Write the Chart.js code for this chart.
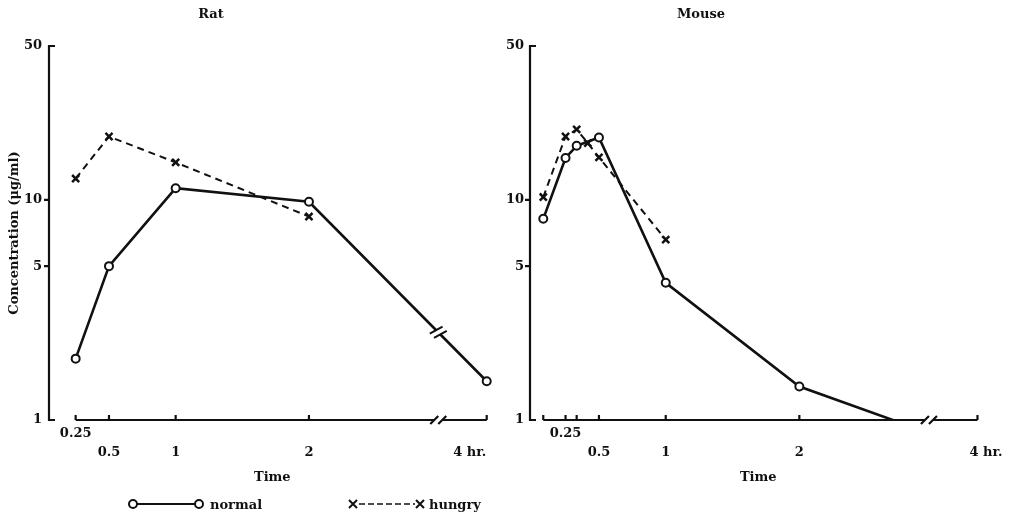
<!DOCTYPE html>
<html>
<head>
<meta charset="utf-8">
<script src="https://cdn.jsdelivr.net/npm/chart.js@4"></script>
<style>
  body { margin: 0; background: #fff; }
  #wrap { position: relative; width: 1011px; height: 516px; overflow: hidden;
          font-family: 'DejaVu Serif', 'Liberation Serif', serif; font-weight: bold; color: #111; }
  canvas { position: absolute; top: 0; }
  #rat { left: 0; }
  #mouse { left: 505px; }
  .ttl { position: absolute; top: 6px; font-size: 13px; transform: translateX(-50%); }
  .leg { position: absolute; top: 496px; font-size: 13px; display: flex; align-items: center; }
  .leg svg { display: block; }
</style>
</head>
<body>
<div id="wrap">
  <canvas id="rat" width="505" height="516"></canvas>
  <canvas id="mouse" width="506" height="516"></canvas>
  <div class="ttl" style="left:211px">Rat</div>
  <div class="ttl" style="left:701px">Mouse</div>
  <div class="leg" style="left:127px">
    <svg width="78" height="16"><line x1="10" y1="8" x2="68" y2="8" stroke="#111" stroke-width="2"/>
      <circle cx="6" cy="8" r="4" fill="#fff" stroke="#111" stroke-width="2"/>
      <circle cx="72" cy="8" r="4" fill="#fff" stroke="#111" stroke-width="2"/></svg>
    <span style="margin-left:5px">normal</span>
  </div>
  <div class="leg" style="left:347px">
    <svg width="80" height="16"><line x1="12" y1="8" x2="68" y2="8" stroke="#111" stroke-width="1.5" stroke-dasharray="6,3"/>
      <path d="M2 4 L10 12 M10 4 L2 12 M69 4 L77 12 M77 4 L69 12" stroke="#111" stroke-width="2"/></svg>
    <span style="margin-left:2px">hungry</span>
  </div>
</div>
<script>
// Rat (hours, µg/ml)
const ratTimes = [0.25, 0.5, 1, 2, 4];
const ratNormal = [1.9, 5.0, 11.3, 9.8, 1.5];
const ratHungryTimes = [0.25, 0.5, 1, 2];
const ratHungry = [12.5, 19.4, 14.8, 8.4];

// Mouse
const mouseTimes = [5 / 60, 0.25, 20 / 60, 0.5, 1, 2, 3];
const mouseNormal = [8.2, 15.5, 17.6, 19.2, 4.2, 1.42, 0.86];
const mouseHungryTimes = [5 / 60, 0.25, 20 / 60, 25 / 60, 0.5, 1];
const mouseHungry = [10.3, 19.4, 20.9, 18.1, 15.6, 6.6];

// axis ticks
const yTickValues = [1, 5, 10, 50];
const ratTickTimes = [0.25, 0.5, 1, 2, 4];
const ratTickLabels = ['0.25', '0.5', '1', '2', '4 hr.'];
const mouseTickTimes = [5 / 60, 0.25, 20 / 60, 0.5, 1, 2, 4];
const mouseTickLabels = ['', '0.25', '', '0.5', '1', '2', '4 hr.'];

const INK = '#111';
const BREAK_AT = 2.97;

// axis is broken after 3 hr: the last part is squeezed
function pos(t) {
  return t <= 3 ? t : 3 + (t - 3) / 3;
}

function points(times, values) {
  return times.map((t, i) => ({ x: pos(t), y: values[i] }));
}

Chart.defaults.font.family = "'DejaVu Serif', 'Liberation Serif', serif";
Chart.defaults.font.weight = 'bold';
Chart.defaults.font.size = 13;
Chart.defaults.color = INK;

// draws the axes the way the old figure does (gap + break marks)
const paperAxes = {
  id: 'paperAxes',
  afterDraw(chart, args, opts) {
    const ctx = chart.ctx, a = chart.chartArea;
    const xs = chart.scales.x, ys = chart.scales.y;
    ctx.save();
    ctx.strokeStyle = INK;
    ctx.lineWidth = 2.2;
    ctx.lineCap = 'butt';

    ctx.beginPath();
    ctx.moveTo(a.left, a.top - 1);
    ctx.lineTo(a.left, a.bottom + 1);
    yTickValues.forEach(v => {
      const y = ys.getPixelForValue(v);
      const d = (v === 1 || v === 50) ? 6 : -5;
      ctx.moveTo(a.left, y);
      ctx.lineTo(a.left + d, y);
    });
    ctx.stroke();

    const px = opts.tickTimes.map(t => xs.getPixelForValue(pos(t)));
    const bx = xs.getPixelForValue(BREAK_AT);
    const yb = a.bottom;
    ctx.beginPath();
    ctx.moveTo(px[0], yb);
    ctx.lineTo(bx - 4, yb);
    ctx.moveTo(bx + 4, yb);
    ctx.lineTo(px[px.length - 1], yb);
    px.forEach(x => { ctx.moveTo(x, yb); ctx.lineTo(x, yb - 5); });
    [bx - 4, bx + 4].forEach(x => { ctx.moveTo(x - 4, yb + 4); ctx.lineTo(x + 4, yb - 4); });
    ctx.stroke();

    if (opts.lineBreak) {
      const pts = chart.getDatasetMeta(0).data;
      let k = 0;
      while (k < pts.length - 2 && pts[k + 1].x < bx) k++;
      const p = pts[k], q = pts[k + 1];
      const dx = q.x - p.x, dy = q.y - p.y, len = Math.hypot(dx, dy);
      const ux = dx / len, uy = dy / len;
      const f = (bx - p.x) / dx;
      const cx = p.x + f * dx, cy = p.y + f * dy;
      ctx.strokeStyle = '#fff';
      ctx.lineWidth = 5;
      ctx.beginPath();
      ctx.moveTo(cx - ux * 2.5, cy - uy * 2.5);
      ctx.lineTo(cx + ux * 2.5, cy + uy * 2.5);
      ctx.stroke();
      ctx.strokeStyle = INK;
      ctx.lineWidth = 2;
      ctx.beginPath();
      [-3, 3].forEach(s => {
        const mx = cx + ux * s, my = cy + uy * s;
        ctx.moveTo(mx - uy * 7 - ux * 2, my + ux * 7 - uy * 2);
        ctx.lineTo(mx + uy * 7 + ux * 2, my - ux * 7 + uy * 2);
      });
      ctx.stroke();
    }
    ctx.restore();
  }
};

function makeChart(id, p) {
  const labelTicks = p.tickTimes.map((t, i) => ({
    value: pos(t) + (t === 4 ? p.hrShift : 0),
    label: p.tickLabels[i] === '0.25' ? ['0.25', ''] : ['', p.tickLabels[i]]
  }));

  return new Chart(document.getElementById(id), {
    type: 'line',
    data: {
      datasets: [
        {
          label: 'normal',
          data: points(p.times, p.normal),
          borderColor: INK,
          borderWidth: 2.6,
          pointStyle: 'circle',
          pointRadius: 4,
          pointBorderWidth: 2,
          pointBackgroundColor: '#fff',
          pointBorderColor: INK,
          clip: { left: 12, top: 12, right: 12, bottom: 0 }
        },
        {
          label: 'hungry',
          data: points(p.hungryTimes, p.hungry),
          borderColor: INK,
          borderWidth: 2,
          borderDash: [7, 5],
          pointStyle: 'crossRot',
          pointRadius: 5,
          pointBorderWidth: 2.5,
          pointBorderColor: INK,
          clip: { left: 12, top: 12, right: 12, bottom: 0 }
        }
      ]
    },
    options: {
      responsive: false,
      animation: false,
      layout: { padding: { top: 46, left: 0, right: p.padRight, bottom: 0 } },
      plugins: {
        legend: { display: false },
        tooltip: { enabled: false },
        paperAxes: { tickTimes: p.tickTimes, lineBreak: p.lineBreak }
      },
      scales: {
        x: {
          type: 'linear',
          min: p.xMin,
          max: p.xMax,
          grid: { display: false, drawTicks: false },
          border: { display: false },
          afterBuildTicks: s => { s.ticks = labelTicks.map(l => ({ value: l.value })); },
          afterFit: s => { s.height = 96; },
          ticks: {
            autoSkip: false,
            maxRotation: 0,
            padding: 4,
            font: { size: 13, weight: 'bold', lineHeight: 1.45 },
            callback: (v, i) => labelTicks[i].label
          },
          title: { display: true, text: 'Time', font: { size: 13, weight: 'bold' }, padding: { top: 0, bottom: 31 } }
        },
        y: {
          type: 'logarithmic',
          min: 1,
          max: 50,
          grid: { display: false, drawTicks: false },
          border: { display: false },
          afterBuildTicks: s => { s.ticks = yTickValues.map(v => ({ value: v })); },
          afterFit: s => { s.width = p.yWidth; },
          ticks: { autoSkip: false, padding: p.yPad, callback: v => String(v) },
          title: {
            display: !!p.yTitle,
            text: p.yTitle || '',
            font: { size: 13, weight: 'bold' },
            padding: { top: 7, bottom: 0 }
          }
        }
      }
    },
    plugins: [paperAxes]
  });
}

makeChart('rat', {
  times: ratTimes, normal: ratNormal,
  hungryTimes: ratHungryTimes, hungry: ratHungry,
  tickTimes: ratTickTimes, tickLabels: ratTickLabels,
  xMin: 0.05, xMax: 3.4, yWidth: 49, yPad: 7, padRight: 9.4,
  hrShift: -0.127, lineBreak: true,
  yTitle: 'Concentration (\u03bcg/ml)'
});

makeChart('mouse', {
  times: mouseTimes, normal: mouseNormal,
  hungryTimes: mouseHungryTimes, hungry: mouseHungry,
  tickTimes: mouseTickTimes, tickLabels: mouseTickLabels,
  xMin: -0.016, xMax: 3.4, yWidth: 25, yPad: 6, padRight: 24.6,
  hrShift: 0.064, lineBreak: false
});
</script>
</body>
</html>
